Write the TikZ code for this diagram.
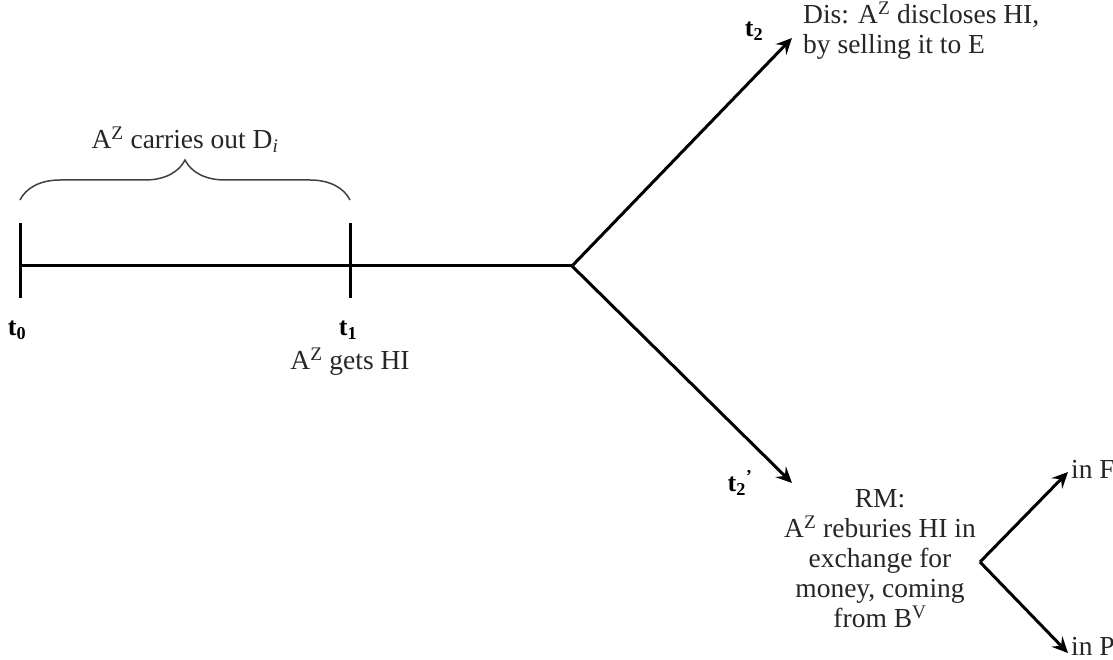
\documentclass[tikz,border=0pt]{standalone}
\usepackage{fontspec}
\setmainfont{Liberation Serif}
\usetikzlibrary{arrows.meta,decorations.pathreplacing}
\tikzset{
  line/.style={line width=3pt, black},
  arr/.style={line, -{Stealth[length=16pt,width=15pt,inset=6pt]}},
  txt/.style={inner sep=0pt, font=\fontsize{27.5}{30}\selectfont, text=black!85},
  tlab/.style={inner sep=0pt, font=\fontsize{26}{30}\selectfont\bfseries},
  brc/.style={line width=1.5pt, black!75, decorate, decoration={brace, amplitude=40pt}}
}
\begin{document}
\begin{tikzpicture}[x=1pt,y=-1pt]
\useasboundingbox (0,0) rectangle (1113,660);
% main timeline
\coordinate (t0) at (20,266);
\coordinate (t1) at (350,266);
\coordinate (fork) at (572,266);
\coordinate (t0top) at (20,223);
\coordinate (t0bot) at (20,298);
\coordinate (t1top) at (350,223);
\coordinate (t1bot) at (350,298);
\coordinate (up) at (792,38);
\coordinate (down) at (792,483);
\coordinate (fork2) at (980,562);
\coordinate (f) at (1068,472);
\coordinate (p) at (1068,653);
\coordinate (bl) at (20,200);
\coordinate (br) at (350,200);

\draw[line] (t0) -- (fork);
\draw[line] (t0top) -- (t0bot);
\draw[line] (t1top) -- (t1bot);
\draw[arr] (fork) -- (up);
\draw[arr] (fork) -- (down);
\draw[arr] (fork2) -- (f);
\draw[arr] (fork2) -- (p);
\draw[brc] (bl) -- (br);

\node[txt] (carries) at (185,140) {A\textsuperscript{Z} carries out D\textsubscript{\textit{i}}};
\node[tlab] (lt0) at (17,330) {t\textsubscript{0}};
\node[tlab] (lt1) at (348,330) {t\textsubscript{1}};
\node[txt] (gets) at (350,362) {A\textsuperscript{Z} gets HI};
\node[tlab] (lt2) at (754,31) {t\textsubscript{2}};
\node[tlab] (lt2p) at (740,483) {t\textsubscript{2}\textsuperscript{’}};
\node[txt, anchor=west, align=left] (dis) at (803,31) {Dis: A\textsuperscript{Z} discloses HI,\\by selling it to E};
\node[txt, align=center] (rm) at (880,559) {RM:\\A\textsuperscript{Z} reburies HI in\\exchange for\\money, coming\\from B\textsuperscript{V}};
\node[txt, anchor=west] (inf) at (1071,469) {in F};
\node[txt, anchor=west] (inp) at (1071,646) {in P};
\end{tikzpicture}
\end{document}
